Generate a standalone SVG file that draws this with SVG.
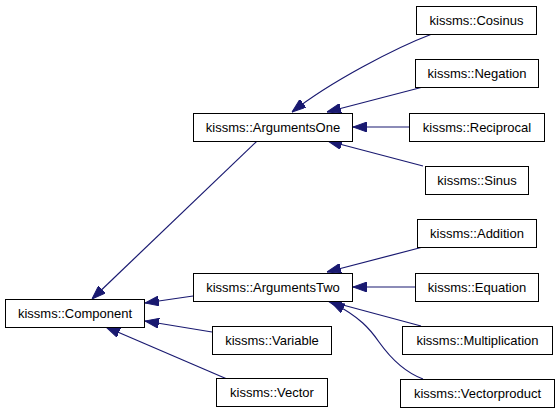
<svg xmlns="http://www.w3.org/2000/svg" width="560" height="413" viewBox="0 0 560 413">
<style>
.n rect{fill:#fff;stroke:#000;stroke-width:1}
.n text{font-family:"Liberation Sans",Arial,sans-serif;font-size:13px;text-anchor:middle;fill:#000}
.e path{fill:none;stroke:#191970;stroke-width:1.2;marker-end:url(#ah)}
</style>
<defs>
<marker id="ah" markerUnits="userSpaceOnUse" markerWidth="14" markerHeight="10" refX="14" refY="5" orient="auto">
<path d="M0,0 L14,5 L0,10 z" fill="#191970" stroke="#191970" stroke-width="1"/>
</marker>
</defs>
<rect width="560" height="413" fill="#fff"/>
<g id="edges" class="e">
<path d="M257,141 L92,299"/>
<path d="M193,296 L145,303"/>
<path d="M212,332 L145,321"/>
<path d="M227,379 L106,327"/>
<path d="M432,34 C395,48 330,82 292,112"/>
<path d="M423,87 L327,112"/>
<path d="M409,127 L353,127"/>
<path d="M423,166 L328,141"/>
<path d="M423,247 L327,272"/>
<path d="M415,287 L353,287"/>
<path d="M421,326 L328,301"/>
<path d="M423,379 C404,372 389,356 379,342 C370,329 360,317 331,302"/>
</g>
<g id="Component" class="n"><rect x="5.5" y="299.5" width="139" height="28"/><text x="75" y="318">kissms::Component</text></g>
<g id="ArgumentsOne" class="n"><rect x="193.5" y="113.5" width="159" height="28"/><text x="273" y="132">kissms::ArgumentsOne</text></g>
<g id="ArgumentsTwo" class="n"><rect x="193.5" y="273.5" width="159" height="28"/><text x="273" y="292">kissms::ArgumentsTwo</text></g>
<g id="Variable" class="n"><rect x="212.5" y="326.5" width="119" height="28"/><text x="272" y="345">kissms::Variable</text></g>
<g id="Vector" class="n"><rect x="216.5" y="378.5" width="111" height="28"/><text x="272" y="397">kissms::Vector</text></g>
<g id="Cosinus" class="n"><rect x="416.5" y="6.5" width="120" height="28"/><text x="476.5" y="25">kissms::Cosinus</text></g>
<g id="Negation" class="n"><rect x="415.5" y="59.5" width="123" height="28"/><text x="477" y="78">kissms::Negation</text></g>
<g id="Reciprocal" class="n"><rect x="409.5" y="113.5" width="135" height="28"/><text x="477" y="132">kissms::Reciprocal</text></g>
<g id="Sinus" class="n"><rect x="425.5" y="166.5" width="103" height="28"/><text x="477" y="185">kissms::Sinus</text></g>
<g id="Addition" class="n"><rect x="417.5" y="219.5" width="119" height="28"/><text x="477" y="238">kissms::Addition</text></g>
<g id="Equation" class="n"><rect x="415.5" y="273.5" width="123" height="28"/><text x="477" y="292">kissms::Equation</text></g>
<g id="Multiplication" class="n"><rect x="402.5" y="326.5" width="150" height="28"/><text x="477.5" y="345">kissms::Multiplication</text></g>
<g id="Vectorproduct" class="n"><rect x="400.5" y="379.5" width="154" height="28"/><text x="477.5" y="398">kissms::Vectorproduct</text></g>
</svg>
